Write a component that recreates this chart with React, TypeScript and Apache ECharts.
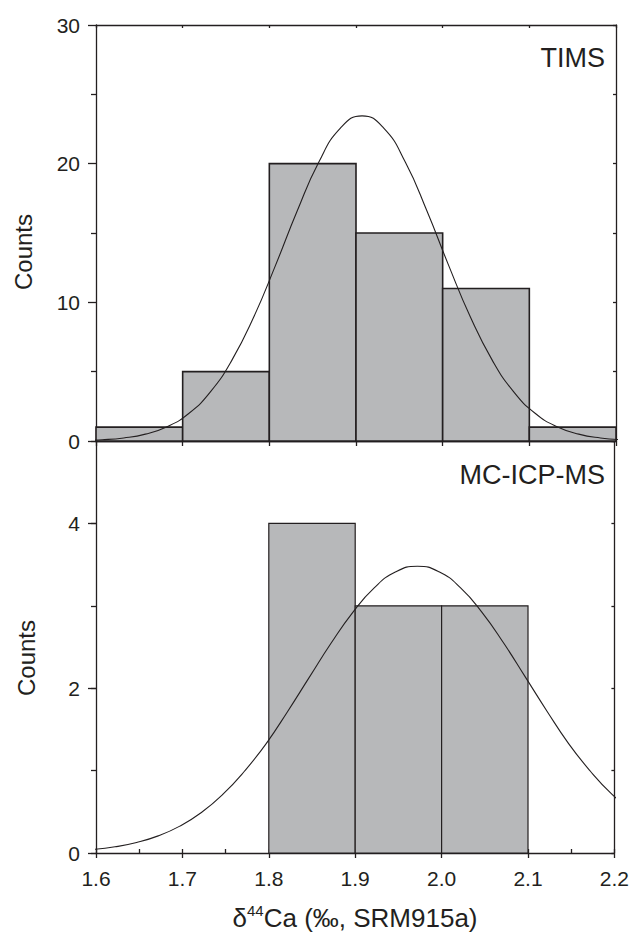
import React, { useEffect, useRef } from "react";
import * as echarts from "echarts";

// ---- Data ----
const binWidth = 0.1;
const timsBinStart = [1.6, 1.7, 1.8, 1.9, 2.0, 2.1];
const timsCounts = [1, 5, 20, 15, 11, 1];
const mcBinStart = [1.8, 1.9, 2.0];
const mcCounts = [4, 3, 3];

// points (TIMS panel)
const timsFitX = [
  1.582, 1.607, 1.632, 1.657, 1.682, 1.707, 1.732, 1.757, 1.782, 1.807, 1.832, 1.857, 1.882,
  1.907, 1.932, 1.957, 1.982, 2.007, 2.032, 2.057, 2.082, 2.107, 2.132, 2.157, 2.182, 2.207,
];
const timsFitY = [
  0.035, 0.091, 0.22, 0.495, 1.03, 1.985, 3.54, 5.85, 8.94, 12.65, 16.57, 20.1, 22.56,
  23.45, 22.56, 20.1, 16.57, 12.65, 8.94, 5.85, 3.54, 1.985, 1.03, 0.495, 0.22, 0.091,
];
// points (MC-ICP-MS panel)
const mcFitX = [
  1.597, 1.622, 1.647, 1.672, 1.697, 1.722, 1.747, 1.772, 1.797, 1.822, 1.847, 1.872, 1.897,
  1.922, 1.947, 1.972, 1.997, 2.022, 2.047, 2.072, 2.097, 2.122, 2.147, 2.172, 2.197, 2.222,
];
const mcFitY = [
  0.043, 0.075, 0.128, 0.208, 0.326, 0.492, 0.714, 0.995, 1.328, 1.721, 2.134, 2.545, 2.918,
  3.218, 3.413, 3.48, 3.413, 3.218, 2.918, 2.545, 2.134, 1.721, 1.328, 0.995, 0.714, 0.492,
];

const xMin = 1.6;
const xMax = 2.2;
const timsMax = 30;
const mcMax = 5;

const FONT = "'Liberation Sans', Arial, Helvetica, sans-serif";
const INK = "#231f20";
const BAR_FILL = "#b7b8ba";

export default function App() {
  const ref = useRef<HTMLDivElement>(null);

  useEffect(() => {
    if (!ref.current) return;
    const chart = echarts.init(ref.current, undefined, { renderer: "svg" });

    const lineStyle = { color: INK, width: 1.3 };

    const histItem = (lw: number) => (params: any, api: any) => {
      const x0 = api.value(0);
      const c = api.value(1);
      const p0 = api.coord([x0, c]);
      const p1 = api.coord([x0 + binWidth, 0]);
      return {
        type: "rect",
        shape: { x: p0[0], y: p0[1], width: p1[0] - p0[0], height: p1[1] - p0[1] },
        style: { fill: BAR_FILL, stroke: INK, lineWidth: lw },
      };
    };

    const baseX = {
      type: "value",
      min: xMin,
      max: xMax,
      splitLine: { show: false },
    };

    const option: any = {
      animation: false,
      textStyle: { fontFamily: FONT, color: INK },
      grid: [
        { left: 96, width: 520, top: 25, height: 416 },
        { left: 96, width: 520, top: 441, height: 412 },
      ],
      xAxis: [
        {
          ...baseX,
          gridIndex: 0,
          position: "bottom",
          interval: 0.1,
          axisLine: { show: true, onZero: false, lineStyle },
          axisTick: { show: true, inside: false, length: 5, lineStyle },
          axisLabel: { show: false },
        },
        {
          ...baseX,
          gridIndex: 0,
          position: "top",
          interval: 0.1,
          axisLine: { show: true, onZero: false, lineStyle },
          axisTick: { show: true, inside: true, length: 3, lineStyle },
          axisLabel: { show: false },
        },
        {
          ...baseX,
          gridIndex: 1,
          position: "bottom",
          interval: 0.1,
          axisLine: { show: true, onZero: false, lineStyle },
          axisTick: { show: true, inside: false, length: 5, lineStyle },
          axisLabel: {
            show: true,
            fontSize: 21,
            fontFamily: FONT,
            color: INK,
            margin: 15,
            formatter: (v: number) => v.toFixed(1),
          },
        },
        {
          ...baseX,
          gridIndex: 1,
          position: "bottom",
          interval: 0.05,
          axisLine: { show: false, onZero: false },
          axisTick: { show: true, inside: true, length: 4, lineStyle },
          axisLabel: { show: false },
        },
        {
          ...baseX,
          gridIndex: 1,
          position: "top",
          interval: 0.1,
          axisLine: { show: true, onZero: false, lineStyle },
          axisTick: { show: false },
          axisLabel: { show: false },
        },
      ],
      yAxis: [
        {
          type: "value",
          gridIndex: 0,
          position: "left",
          min: 0,
          max: timsMax,
          interval: 10,
          splitLine: { show: false },
          axisLine: { show: true, onZero: false, lineStyle },
          axisTick: { show: true, inside: false, length: 8, lineStyle },
          minorTick: { show: true, splitNumber: 2, length: 5, lineStyle },
          axisLabel: { fontSize: 21, fontFamily: FONT, color: INK, margin: 16 },
        },
        {
          type: "value",
          gridIndex: 0,
          position: "right",
          min: 0,
          max: timsMax,
          interval: 5,
          splitLine: { show: false },
          axisLine: { show: true, onZero: false, lineStyle },
          axisTick: { show: true, inside: true, length: 3, lineStyle },
          axisLabel: { show: false },
        },
        {
          type: "value",
          gridIndex: 1,
          position: "left",
          min: 0,
          max: mcMax,
          interval: 2,
          splitLine: { show: false },
          axisLine: { show: true, onZero: false, lineStyle },
          axisTick: { show: true, inside: false, length: 8, lineStyle },
          axisLabel: {
            fontSize: 21,
            fontFamily: FONT,
            color: INK,
            margin: 16,
            showMaxLabel: false,
          },
        },
        {
          type: "value",
          gridIndex: 1,
          position: "left",
          min: 0,
          max: mcMax,
          interval: 1,
          splitLine: { show: false },
          axisLine: { show: false, onZero: false },
          axisTick: { show: true, inside: false, length: 5, lineStyle },
          axisLabel: { show: false },
        },
        {
          type: "value",
          gridIndex: 1,
          position: "right",
          min: 0,
          max: mcMax,
          interval: 1,
          splitLine: { show: false },
          axisLine: { show: true, onZero: false, lineStyle },
          axisTick: { show: true, inside: true, length: 3, lineStyle },
          axisLabel: { show: false },
        },
      ],
      series: [
        {
          type: "custom",
          name: "TIMS",
          xAxisIndex: 0,
          yAxisIndex: 0,
          renderItem: histItem(1.6),
          encode: { x: 0, y: 1 },
          data: timsBinStart.map((x, i) => [x, timsCounts[i]]),
          z: 2,
        },
        {
          type: "line",
          name: "TIMS fit",
          xAxisIndex: 0,
          yAxisIndex: 0,
          smooth: 0.5,
          showSymbol: false,
          symbol: "none",
          clip: true,
          lineStyle: { color: INK, width: 1.1 },
          data: timsFitX.map((x, i) => [x, timsFitY[i]]),
          z: 3,
        },
        {
          type: "custom",
          name: "MC-ICP-MS",
          xAxisIndex: 2,
          yAxisIndex: 2,
          renderItem: histItem(1.2),
          encode: { x: 0, y: 1 },
          data: mcBinStart.map((x, i) => [x, mcCounts[i]]),
          z: 2,
        },
        {
          type: "line",
          name: "MC-ICP-MS fit",
          xAxisIndex: 2,
          yAxisIndex: 2,
          smooth: 0.5,
          showSymbol: false,
          symbol: "none",
          clip: true,
          lineStyle: { color: INK, width: 1.1 },
          data: mcFitX.map((x, i) => [x, mcFitY[i]]),
          z: 3,
        },
      ],
      graphic: [
        {
          type: "text",
          right: 27,
          top: 44,
          style: { text: "TIMS", fontSize: 27, fontFamily: FONT, fill: INK },
        },
        {
          type: "text",
          right: 27,
          top: 461,
          style: { text: "MC-ICP-MS", fontSize: 27, fontFamily: FONT, fill: INK },
        },
        {
          type: "text",
          x: 23,
          y: 252,
          rotation: Math.PI / 2,
          style: {
            text: "Counts",
            fontSize: 24,
            fontFamily: FONT,
            fill: INK,
            align: "center",
            verticalAlign: "middle",
          },
        },
        {
          type: "text",
          x: 26,
          y: 658,
          rotation: Math.PI / 2,
          style: {
            text: "Counts",
            fontSize: 24,
            fontFamily: FONT,
            fill: INK,
            align: "center",
            verticalAlign: "middle",
          },
        },
        {
          type: "text",
          x: 355,
          y: 918,
          style: {
            text: "{a|δ}{s|44}{a|Ca (‰, SRM915a)}",
            align: "center",
            verticalAlign: "middle",
            fill: INK,
            fontFamily: FONT,
            rich: {
              a: { fontSize: 26, fontFamily: FONT, fill: INK, lineHeight: 30 },
              s: {
                fontSize: 15,
                fontFamily: FONT,
                fill: INK,
                verticalAlign: "top",
                lineHeight: 30,
                padding: [0, 0, 12, 0],
              },
            },
          },
        },
      ],
    };

    chart.setOption(option);
    return () => chart.dispose();
  }, []);

  return (
    <div
      ref={ref}
      style={{ position: "absolute", left: 0, top: 0, width: 632, height: 934, background: "#fff" }}
    />
  );
}
